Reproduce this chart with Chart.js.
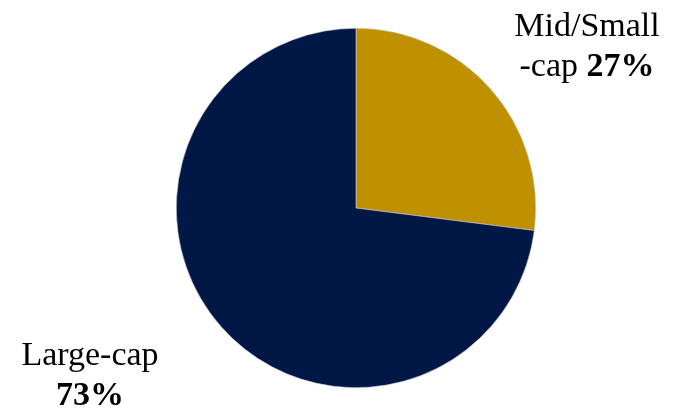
<!DOCTYPE html>
<html>
<head>
<meta charset="utf-8">
<script src="https://cdn.jsdelivr.net/npm/chart.js@4/dist/chart.umd.min.js"></script>
<style>
  html, body { margin: 0; padding: 0; background: #ffffff; }
  #wrap { width: 680px; height: 408px; }
</style>
</head>
<body>
<div id="wrap"><canvas id="pie"></canvas></div>
<script>
// Market-cap split of the portfolio
const categories = ["Mid/Small-cap", "Large-cap"];
const shares = [27, 73];
const colors = ["#BF9000", "#011746"];

// Each label: name lines plus the bold percentage, placed beside its slice
const labelLines = [
  [["Mid/Small", ""], ["-cap ", shares[0] + "%"]],
  [["Large-cap", ""], ["", shares[1] + "%"]]
];
const labelAnchors = [
  { x: 587, y: 36 },
  { x: 90, y: 365 }
];

const FONT = '"Liberation Serif", "Times New Roman", serif';
const SIZE = 34;
const LINE_H = 40;

const sliceLabels = {
  id: "sliceLabels",
  afterDraw(chart) {
    const ctx = chart.ctx;
    ctx.save();
    ctx.fillStyle = "#000000";
    ctx.textBaseline = "alphabetic";
    labelLines.forEach((lines, i) => {
      const a = labelAnchors[i];
      lines.forEach((ln, j) => {
        const [plain, bold] = ln;
        ctx.font = `${SIZE}px ${FONT}`;
        const wPlain = ctx.measureText(plain).width;
        ctx.font = `bold ${SIZE}px ${FONT}`;
        const wBold = ctx.measureText(bold).width;
        let x = a.x - (wPlain + wBold) / 2;
        const y = a.y + j * LINE_H;
        ctx.textAlign = "left";
        ctx.font = `${SIZE}px ${FONT}`;
        ctx.fillText(plain, x, y);
        ctx.font = `bold ${SIZE}px ${FONT}`;
        ctx.fillText(bold, x + wPlain, y);
      });
    });
    ctx.restore();
  }
};

new Chart(document.getElementById("pie"), {
  type: "pie",
  data: {
    labels: categories,
    datasets: [{
      data: shares,
      backgroundColor: colors,
      borderColor: "#c8ccd6",
      borderWidth: 0.6
    }]
  },
  options: {
    responsive: true,
    maintainAspectRatio: false,
    animation: false,
    layout: { padding: { top: 28, bottom: 20, left: 32, right: 0 } },
    plugins: {
      legend: { display: false },
      tooltip: { enabled: false }
    }
  },
  plugins: [sliceLabels]
});
</script>
</body>
</html>
